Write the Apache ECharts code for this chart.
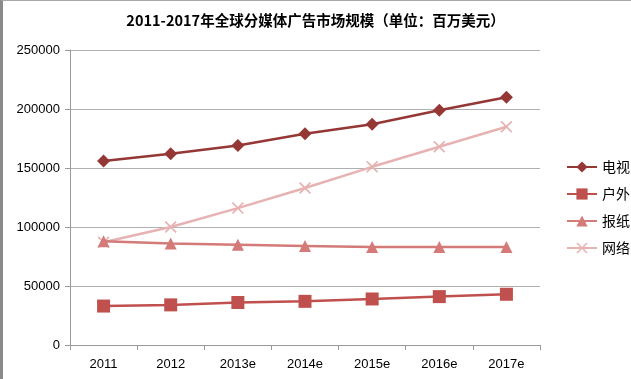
<!DOCTYPE html>
<html><head><meta charset="utf-8">
<script src="https://cdn.jsdelivr.net/npm/echarts@6/dist/echarts.min.js"></script>
<style>
html,body{margin:0;padding:0;background:#fff;}
#frame{position:absolute;left:0;top:0;width:628px;height:378px;border-left:3px solid #8a8a8a;border-top:1px solid #a8a8a8;}
#c{position:absolute;left:0;top:0;width:631px;height:379px;}
</style></head>
<body>
<div id="c"></div>
<div id="frame"></div>
<script>
const categories = ['2011','2012','2013e','2014e','2015e','2016e','2017e'];
const seriesNames = ['电视','户外','报纸','网络'];
const tv = [156000,162000,169000,179000,187000,199000,210000];
const outdoor = [33000,34000,36000,37000,39000,41000,43000];
const newspaper = [88000,86000,85000,84000,83000,83000,83000];
const internet = [87000,100000,116000,133000,151000,168000,185000];
const yTicks = {min:0, max:250000, interval:50000};

const colors = ['#953735','#c0504d','#d47a78','#e6b3b2'];
const xPath = 'path://M0,1 L1,0 L5,4 L9,0 L10,1 L6,5 L10,9 L9,10 L5,6 L1,10 L0,9 L4,5 Z';
const symbols = ['diamond','rect','triangle',xPath];
const sizes = [13,13,12,12];
const datas = [tv,outdoor,newspaper,internet];

const chart = echarts.init(document.getElementById('c'));
chart.setOption({
  animation:false,
  textStyle:{fontFamily:'Liberation Sans, Noto Sans, sans-serif'},
  title:{text:'2011-2017年全球分媒体广告市场规模（单位：百万美元）',left:'center',top:8,
    textStyle:{fontSize:14.5,fontWeight:'bold',color:'#000',fontFamily:'Noto Sans CJK SC, sans-serif'}},
  grid:{left:70,right:91,top:50,bottom:34,containLabel:false},
  legend:{orient:'vertical',left:561,top:155,itemGap:13,itemWidth:30,itemHeight:14,
    textStyle:{fontSize:14,color:'#000',fontFamily:'Noto Sans CJK SC, sans-serif'},
    data:seriesNames},
  xAxis:{type:'category',data:categories,boundaryGap:true,
    axisLine:{lineStyle:{color:'#9a9a9a'}},
    axisTick:{show:true,length:5,inside:false,lineStyle:{color:'#9a9a9a'}},
    axisLabel:{color:'#000',fontSize:13,margin:13}},
  yAxis:{type:'value',min:yTicks.min,max:yTicks.max,interval:yTicks.interval,
    axisLine:{show:true,lineStyle:{color:'#9a9a9a'}},
    axisTick:{show:true,length:5,lineStyle:{color:'#9a9a9a'}},
    axisLabel:{color:'#000',fontSize:13,margin:10,formatter:v=>String(v)},
    splitLine:{lineStyle:{color:'#b0b0b0'}}},
  series:seriesNames.map((n,i)=>({
    name:n,type:'line',data:datas[i],symbol:symbols[i],symbolSize:sizes[i],
    showSymbol:true,
    lineStyle:{color:colors[i],width:2.5},
    itemStyle:{color:colors[i]},
    z:10-i
  }))
});
</script>
</body></html>
